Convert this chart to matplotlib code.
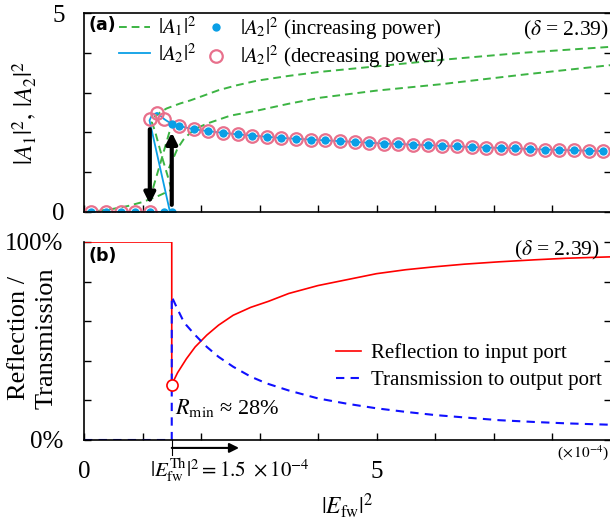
import numpy as np
import matplotlib
matplotlib.use("Agg")
import matplotlib.pyplot as plt
from matplotlib.lines import Line2D

plt.rcParams['font.family'] = ['Liberation Serif', 'DejaVu Serif']
plt.rcParams['mathtext.fontset'] = 'stix'

# ---- panel (a): mode intensities vs pump power (units of 1e-4) ----
# |A1|^2 branches (dashed green)
a1_low_x = [0.0, 0.25, 0.5, 0.75, 1.0, 1.25, 1.5]
a1_low_y = [0.0, 0.03, 0.08, 0.15, 0.25, 0.39, 0.56]
a1_brk_x = [1.5, 1.35, 1.21, 1.16, 1.2, 1.3, 1.41, 1.5, 1.65, 1.81, 2.0, 2.3, 2.6,
            2.96, 3.5, 4.03, 5.0, 6.09, 7.5, 9.0]
a1_brk_y = [0.56, 1.3, 2.05, 2.25, 2.38, 2.5, 2.6, 2.65, 2.73, 2.8, 2.9, 3.06, 3.18,
            3.3, 3.42, 3.52, 3.66, 3.82, 4.0, 4.15]
a1_mid_x = [1.12, 1.3, 1.47]
a1_mid_y = [0.3, 1.2, 2.06]
a1_sym_x = [1.45, 1.5, 1.6, 1.7, 1.81, 1.95, 2.1, 2.5, 3.0, 3.5, 4.03, 5.0, 6.1, 7.5, 9.0]
a1_sym_y = [1.1, 1.26, 1.6, 1.82, 1.98, 2.12, 2.22, 2.42, 2.56, 2.72, 2.87, 3.05, 3.21, 3.45, 3.69]

# |A2|^2 full solution (solid blue)
a2_x = [0.0, 1.47, 1.12, 1.15, 1.18, 1.25, 1.375, 1.5]
a2_y = [0.0, 0.0, 2.3, 2.4, 2.45, 2.49, 2.33, 2.21]

# upper stable branch sampled every 0.25 from 1.625
up_x = [1.625, 1.875, 2.125, 2.375, 2.625, 2.875, 3.125, 3.375, 3.625, 3.875,
        4.125, 4.375, 4.625, 4.875, 5.125, 5.375, 5.625, 5.875, 6.125, 6.375,
        6.625, 6.875, 7.125, 7.375, 7.625, 7.875, 8.125, 8.375, 8.625, 8.875]
up_y = [2.16, 2.08, 2.03, 1.99, 1.95, 1.92, 1.89, 1.86, 1.84, 1.82,
        1.80, 1.78, 1.76, 1.74, 1.72, 1.71, 1.69, 1.68, 1.66, 1.65,
        1.63, 1.62, 1.61, 1.60, 1.58, 1.57, 1.56, 1.55, 1.54, 1.53]

# sweeps
inc_x = [0.125, 0.375, 0.625, 0.875, 1.125, 1.375, 1.5, 1.5] + up_x
inc_y = [0, 0, 0, 0, 0, 0, 0, 2.21] + up_y
dec_x = [0.125, 0.375, 0.625, 0.875, 1.125, 1.125, 1.25, 1.375] + up_x
dec_y = [0, 0, 0, 0, 0, 2.33, 2.49, 2.33] + up_y

# ---- panel (b): reflection / transmission ----
ref_x = [0.0, 1.5, 1.5, 1.6, 1.75, 1.9, 2.1, 2.3, 2.55, 2.85, 3.15, 3.5, 4.0, 4.5,
         5.0, 5.5, 6.0, 6.5, 7.1, 7.7, 8.25, 9.0]
ref_y = [1.0, 1.0, 0.28, 0.34, 0.41, 0.47, 0.53, 0.58, 0.63, 0.67, 0.70, 0.74, 0.78, 0.81,
         0.84, 0.86, 0.875, 0.888, 0.90, 0.91, 0.918, 0.925]
tra_x = [0.0, 1.5, 1.5, 1.6, 1.7, 1.75, 1.9, 2.1, 2.3, 2.55, 2.85, 3.12, 3.5, 4.0, 4.5,
         5.0, 5.5, 6.0, 6.5, 7.1, 7.7, 8.25, 9.0]
tra_y = [0.0, 0.0, 0.724, 0.66, 0.60, 0.58, 0.53, 0.47, 0.42, 0.37, 0.32, 0.286, 0.25,
         0.21, 0.183, 0.16, 0.142, 0.126, 0.114, 0.10, 0.091, 0.084, 0.077]
r_min = 0.28
x_th = 1.5

green = '#3cb443'
cyan = '#0a9fe6'
pink = '#e8708c'

fig = plt.figure(figsize=(6.1, 5.2), dpi=100)
ax1 = fig.add_axes([84 / 610, 1 - 212 / 520, 526.5 / 610, 199 / 520])
ax2 = fig.add_axes([84 / 610, 1 - 440 / 520, 526.5 / 610, 198 / 520])

# --- (a) ---
dash = (0, (4, 2.5))
for xs, ys in [(a1_low_x, a1_low_y), (a1_brk_x, a1_brk_y), (a1_mid_x, a1_mid_y),
               (a1_sym_x, a1_sym_y)]:
    ax1.plot(xs, ys, color=green, ls=dash, lw=1.4)
ax1.plot(a2_x + up_x, a2_y + up_y, color=cyan, lw=1.3)
ax1.plot(dec_x, dec_y, 'o', ms=9, mfc='none', mec=pink, mew=1.6)
ax1.plot(inc_x, inc_y, 'o', ms=6, mfc=cyan, mec='none')

arr = dict(arrowstyle='-|>', lw=3, color='k', mutation_scale=16, shrinkA=0, shrinkB=0)
ax1.annotate('', xy=(1.125, 0.2), xytext=(1.125, 2.08), arrowprops=arr)
ax1.annotate('', xy=(1.5, 2.0), xytext=(1.5, 0.18), arrowprops=arr)

ax1.set_xlim(0, 9)
ax1.set_ylim(0, 5)
ax1.set_xticks(range(0, 10))
ax1.set_xticklabels([])
ax1.set_yticks(range(0, 6))
ax1.set_yticklabels(['0', '', '', '', '', '5'], fontsize=18)
ax1.tick_params(direction='in', length=5, width=1, right=True, top=False, pad=14)

leg_handles = [
    Line2D([], [], color=green, ls=dash, lw=1.4),
    Line2D([], [], color=cyan, lw=1.3),
    Line2D([], [], ls='none', marker='o', ms=6, mfc=cyan, mec='none'),
    Line2D([], [], ls='none', marker='o', ms=9, mfc='none', mec=pink, mew=1.6),
]
leg_labels = [r'$|A_1|^2$', r'$|A_2|^2$',
              r'$|A_2|^2$ (increasing power)', r'$|A_2|^2$ (decreasing power)']
ax1.legend(leg_handles, leg_labels, ncol=2, loc='upper left', bbox_to_anchor=(0.05, 1.03),
           frameon=False, fontsize=15, handlelength=1.5, handletextpad=0.4,
           columnspacing=0.15, labelspacing=0.1, borderaxespad=0.0)
ax1.text(0.008, 0.94, '(a)', transform=ax1.transAxes, fontsize=12.5, fontweight='bold',
         family='DejaVu Sans', va='center', ha='left')
ax1.text(8.97, 4.57, r'($\delta$ = 2.39)', fontsize=15.5, ha='right', va='center')

# --- (b) ---
ax2.plot(ref_x, ref_y, color='red', lw=1.2, label='Reflection to input port')
ax2.plot(tra_x, tra_y, color='#1010ff', lw=1.5, ls=(0, (4, 3)), label='Transmission to output port')
ax2.plot([x_th], [r_min], 'o', ms=8, mfc='white', mec='red', mew=1.2, zorder=5)

ax2.set_xlim(0, 9)
ax2.set_ylim(0, 1)
ax2.set_xticks(range(0, 10))
ax2.set_xticklabels(['0', '', '', '', '', '5', '', '', '', ''], fontsize=18)
ax2.set_yticks([0, 0.2, 0.4, 0.6, 0.8, 1.0])
ax2.set_yticklabels(['0%', '', '', '', '', '100%'], fontsize=18)
ax2.tick_params(direction='in', length=5, width=1, right=True, pad=15)
ax2.tick_params(axis='y', pad=15)
ax2.spines['top'].set_visible(False)
ax2.set_xlabel(r'$|E_{\rm fw}|^2$', fontsize=17, labelpad=6)

# axis titles placed in figure pixels
fig.text(25 / 610, 1 - 113 / 520, r'$|A_1|^2,\,|A_2|^2$', fontsize=18, rotation=90,
         ha='center', va='center')
fig.text(33 / 610, 1 - 338 / 520, 'Reflection /\nTransmission', fontsize=19, rotation=90,
         ha='center', va='center', linespacing=1.3)

ax2.legend(loc='lower right', bbox_to_anchor=(1.0, 0.21), frameon=False, fontsize=15,
           handlelength=1.2, handletextpad=0.5, labelspacing=0.35, borderaxespad=0.0)
ax2.text(0.008, 0.93, '(b)', transform=ax2.transAxes, fontsize=12.5, fontweight='bold',
         family='DejaVu Sans', va='center', ha='left')
ax2.text(8.82, 0.955, r'($\delta$ = 2.39)', fontsize=15.5, ha='right', va='center')
ax2.text(1.556, 0.16, r'$R_{\rm min}$ ≈ 28%', fontsize=16, ha='left', va='center')

# threshold marker below the axis
ax2.plot([x_th, x_th], [0, -0.075], color='k', lw=0.8, clip_on=False)
ax2.annotate('', xy=(2.65, -0.04), xytext=(x_th, -0.04), annotation_clip=False,
             arrowprops=dict(arrowstyle='-|>', lw=1.5, color='k', mutation_scale=14,
                             shrinkA=0, shrinkB=0))
ax2.text(1.13, -0.155, r'$|E_{\rm fw}^{\rm Th}|^2 = 1.5\ \times 10^{-4}$', fontsize=15,
         ha='left', va='center', clip_on=False)
ax2.text(8.97, -0.065, r'($\times\,10^{-4}$)', fontsize=11, ha='right', va='center')

for ax in (ax1, ax2):
    for sp in ax.spines.values():
        sp.set_linewidth(1.2)

fig.savefig('out.png', dpi=100)
